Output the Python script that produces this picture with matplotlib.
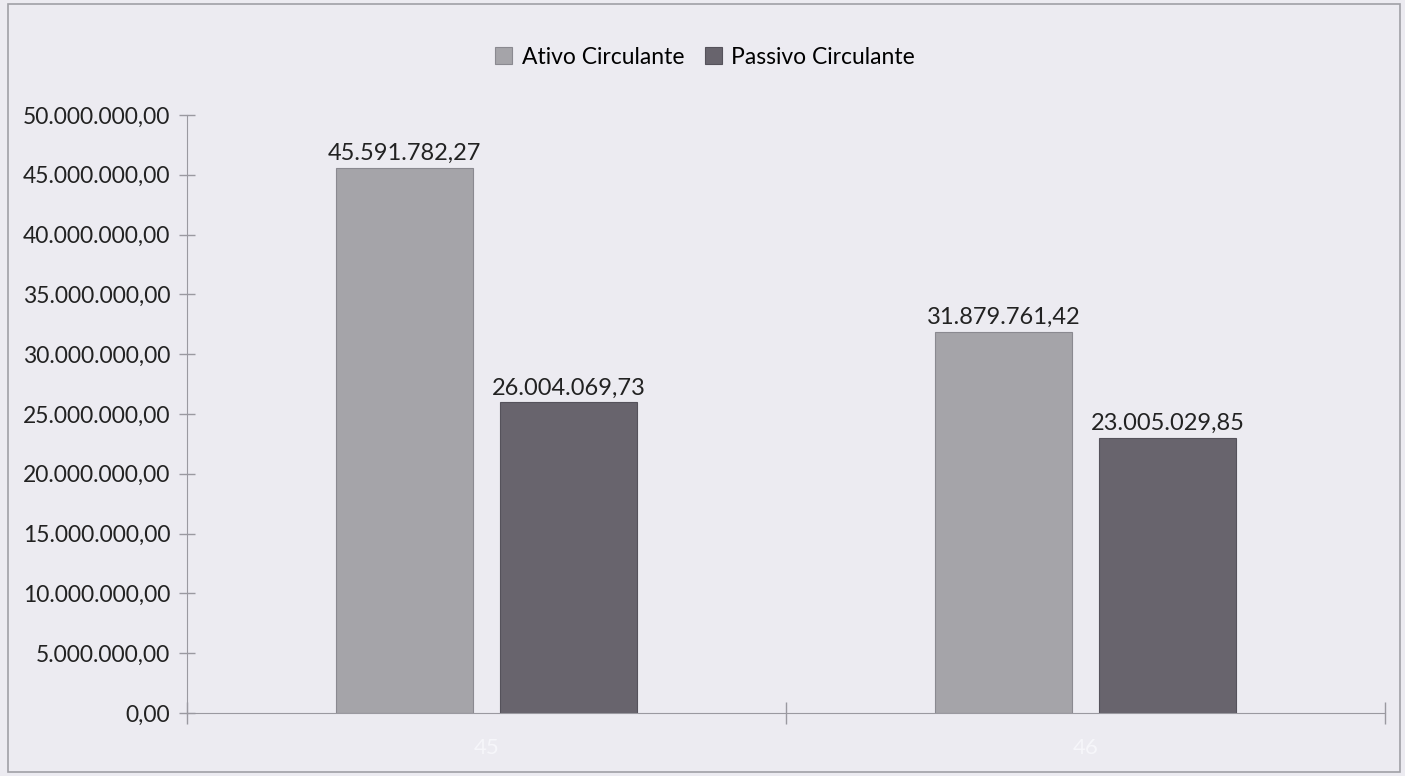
import matplotlib.pyplot as plt
from matplotlib.patches import Rectangle
import numpy as np

categories = ['45', '46']
ativo = [45591782.27, 31879761.42]
passivo = [26004069.73, 23005029.85]
series_names = ['Ativo Circulante', 'Passivo Circulante']
yticks = [0, 5e6, 10e6, 15e6, 20e6, 25e6, 30e6, 35e6, 40e6, 45e6, 50e6]


def br(v):
  # brazilian number format 1.234,56
  s = f"{v:,.2f}"
  return s.replace(',', 'X').replace('.', ',').replace('X', '.')


plt.rcParams['font.family'] = ['Lato', 'DejaVu Sans']
bg = '#ecebf1'
c1 = '#a5a4a9'
c2 = '#68646d'
line = '#9a99a0'

fig = plt.figure(figsize=(14.05, 7.76), dpi=100, facecolor=bg)
ax = fig.add_axes([187/1405, 1-713/776, (1385-187)/1405, (713-115)/776])
ax.set_facecolor(bg)

x = np.arange(len(categories))
w = 0.229
b1 = ax.bar(x - 0.137, ativo, w, color=c1, edgecolor='#8a8990', linewidth=0.8, label=series_names[0])
b2 = ax.bar(x + 0.137, passivo, w, color=c2, edgecolor='#55525b', linewidth=0.8, label=series_names[1])

for bars, vals in ((b1, ativo), (b2, passivo)):
  for r, v in zip(bars, vals):
    ax.text(r.get_x() + r.get_width()/2, v + 300000, br(v), ha='center', va='bottom',
            fontsize=17, color='#222222')

ax.set_xlim(-0.5, 1.5)
ax.set_ylim(0, 50e6)
ax.set_yticks(yticks)
ax.set_yticklabels([br(v) for v in yticks], fontsize=16.5, color='#222222')
ax.set_xticks(x)
ax.set_xticklabels(categories, fontsize=16, color='#f6f6fa')
ax.tick_params(axis='x', length=0, pad=18)
ax.set_xticks([-0.5, 0.5, 1.5], minor=True)
ax.tick_params(axis='x', which='minor', direction='inout', length=16, color=line, width=1)
ax.tick_params(axis='y', direction='inout', length=12, color=line, width=1, pad=6)

for s in ['top', 'right']:
  ax.spines[s].set_visible(False)
ax.spines['left'].set_color(line)
ax.spines['bottom'].set_color(line)

fig.legend(handles=[b1, b2], loc='center', bbox_to_anchor=(705/1405, 1-57/776), ncol=2,
           frameon=False, fontsize=16.5, handlelength=0.75, handleheight=0.75,
           handletextpad=0.4, columnspacing=0.9)

fig.patches.append(Rectangle((8/1405, 4/776), 1392/1405, 768/776, transform=fig.transFigure,
                             fill=False, edgecolor='#a0a0a6', linewidth=1.2))

fig.savefig('out.png', dpi=100, facecolor=bg)
